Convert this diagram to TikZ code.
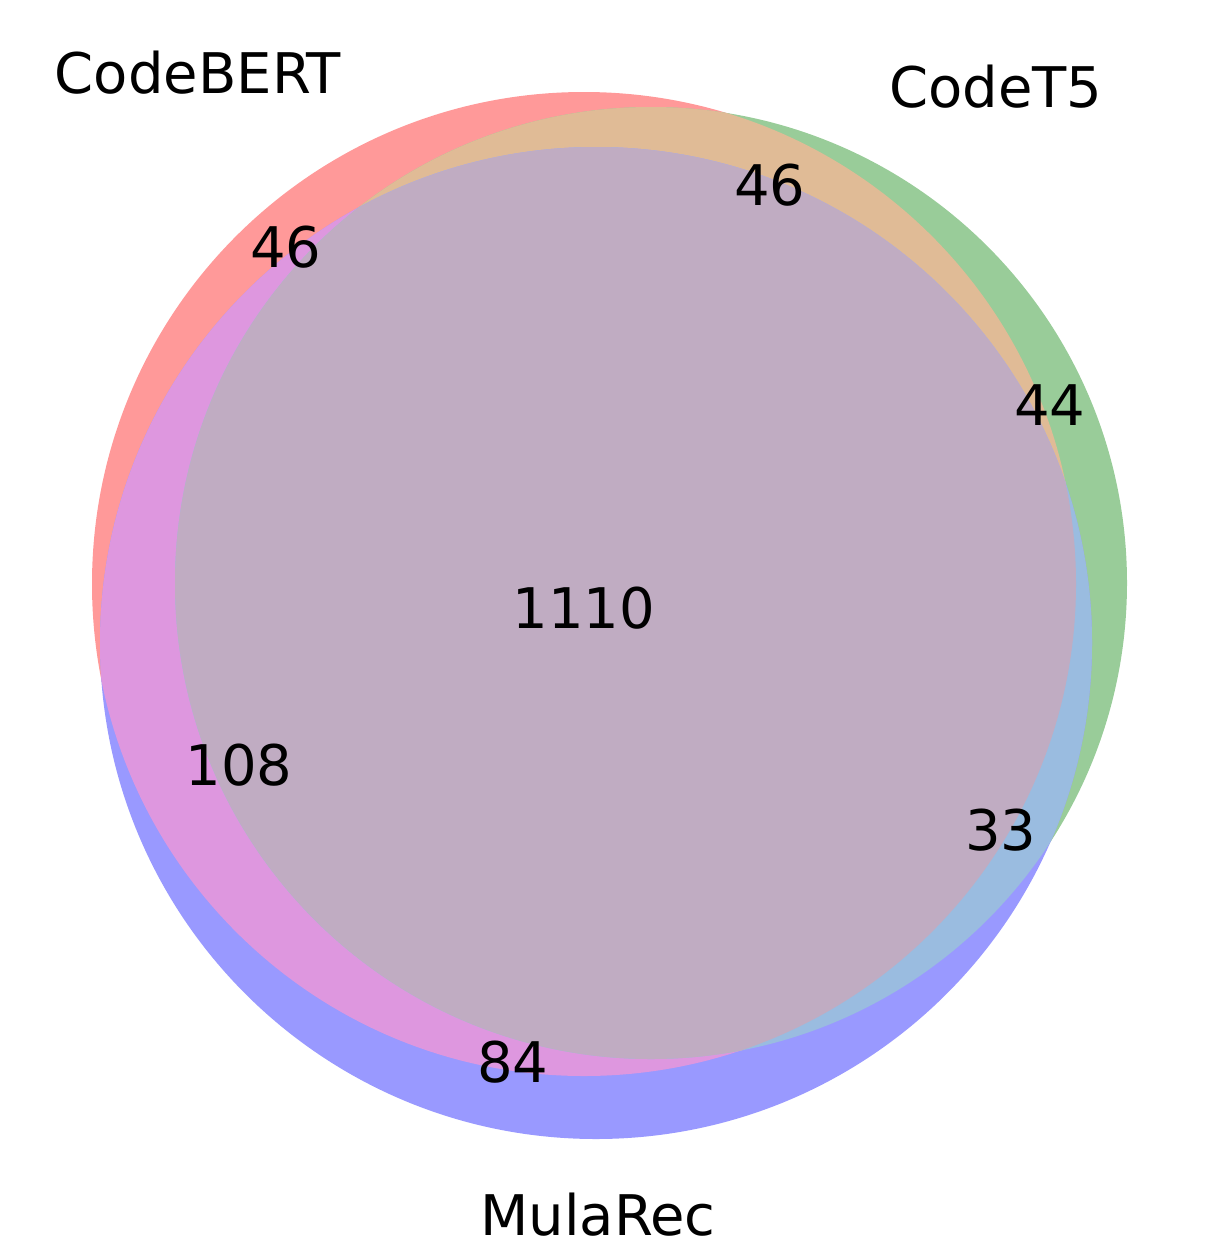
\documentclass[tikz,border=0pt]{standalone}
\usepackage{fontspec}
\setmainfont{DejaVu Sans}
\definecolor{cA}{HTML}{FF9999}
\definecolor{cB}{HTML}{99CC99}
\definecolor{cC}{HTML}{9999FF}
\definecolor{cAB}{HTML}{E0BB96}
\definecolor{cAC}{HTML}{DE97DF}
\definecolor{cBC}{HTML}{9ABCE0}
\definecolor{cABC}{HTML}{C0ACC2}
\tikzset{
  lbl/.style={anchor=base, inner sep=0pt, text depth=0pt, font=\fontsize{56}{60}\selectfont, text=black},
}
\begin{document}
\begin{tikzpicture}[x=1pt,y=-1pt]
\useasboundingbox (0,0) rectangle (1220,1243);
\def\circA{(584,584) circle [radius=492]}
\def\circB{(651,583) circle [radius=476]}
\def\circC{(596,643) circle [radius=496]}
\fill[cA] \circA;
\fill[cB] \circB;
\fill[cC] \circC;
\begin{scope}
  \clip \circA;
  \fill[cAB] \circB;
  \fill[cAC] \circC;
\end{scope}
\begin{scope}
  \clip \circB;
  \fill[cBC] \circC;
\end{scope}
\begin{scope}
  \clip \circA;
  \clip \circB;
  \fill[cABC] \circC;
\end{scope}
% set labels
\node[lbl] (labA) at (198,93) {CodeBERT};
\node[lbl] (labB) at (996,107) {CodeT5};
\node[lbl] (labC) at (598,1235) {MulaRec};
% region counts
\node[lbl] (nA) at (286,267) {46};
\node[lbl] (nAB) at (770,205) {46};
\node[lbl] (nB) at (1050,425) {44};
\node[lbl] (nABC) at (584,628) {1110};
\node[lbl] (nAC) at (239,785) {108};
\node[lbl] (nBC) at (1001,850) {33};
\node[lbl] (nC) at (513,1082) {84};
\end{tikzpicture}
\end{document}
